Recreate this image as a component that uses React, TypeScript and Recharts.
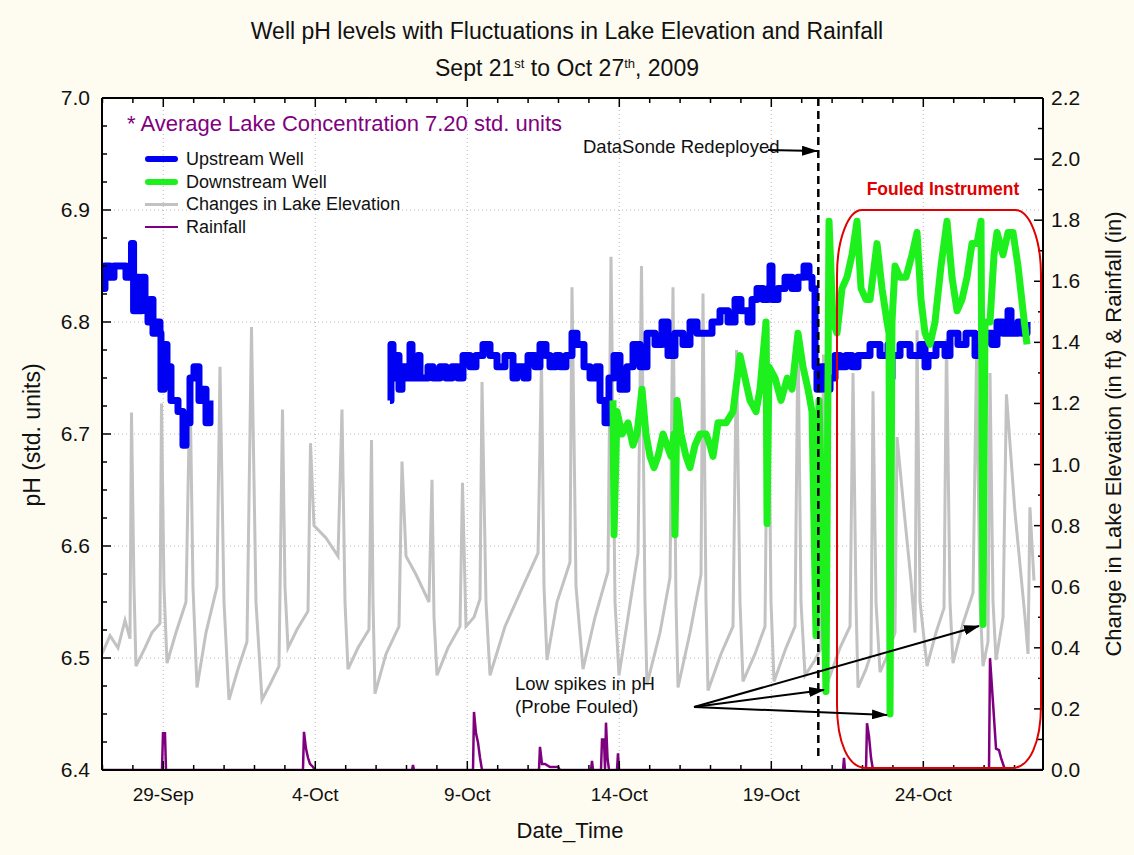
import React from 'react';
import { ComposedChart, Line, XAxis, YAxis, CartesianGrid, ReferenceLine, Legend } from 'recharts';

// ---------- axis / tick definitions ----------
const X_DOMAIN: [number, number] = [-2.016, 28.937]; // days since 29-Sep-2009
const X_TICKS = [-2, -1, 0, 1, 2, 3, 4, 5, 6, 7, 8, 9, 10, 11, 12, 13, 14, 15, 16, 17, 18, 19, 20, 21, 22, 23, 24, 25, 26, 27, 28];
const X_TICK_LABELS: Record<number, string> = { 0: '29-Sep', 5: '4-Oct', 10: '9-Oct', 15: '14-Oct', 20: '19-Oct', 25: '24-Oct' };
const X_GRID = [0, 5, 10, 15, 20, 25];
const PH_TICKS = [6.4, 6.425, 6.45, 6.475, 6.5, 6.525, 6.55, 6.575, 6.6, 6.625, 6.65, 6.675, 6.7, 6.725, 6.75, 6.775, 6.8, 6.825, 6.85, 6.875, 6.9, 6.925, 6.95, 6.975, 7.0];
const PH_GRID = [6.5, 6.6, 6.7, 6.8, 6.9];
const LAKE_TICKS = [0, 0.1, 0.2, 0.3, 0.4, 0.5, 0.6, 0.7, 0.8, 0.9, 1.0, 1.1, 1.2, 1.3, 1.4, 1.5, 1.6, 1.7, 1.8, 1.9, 2.0, 2.1, 2.2];
const REDEPLOY_DAY = 21.546;

// ---------- series ----------
const upstreamWell: [number, number | null][] = [
  [-2.016, 6.83], [-1.918, 6.85], [-1.753, 6.84], [-1.622, 6.85], [-1.293, 6.85], [-1.227, 6.84], [-1.095, 6.85], [-1.046, 6.87],
  [-0.977, 6.81], [-0.878, 6.84], [-0.78, 6.81], [-0.701, 6.84], [-0.602, 6.82], [-0.503, 6.8], [-0.438, 6.82], [-0.339, 6.79],
  [-0.207, 6.8], [-0.109, 6.79], [-0.076, 6.74], [0.023, 6.78], [0.122, 6.76], [0.253, 6.73], [0.418, 6.73], [0.484, 6.72],
  [0.648, 6.69], [0.747, 6.71], [0.878, 6.75], [1.01, 6.76], [1.174, 6.73], [1.306, 6.74], [1.405, 6.71], [1.536, 6.73],
  [2.0, null],
  [7.457, 6.73], [7.49, 6.78], [7.556, 6.75], [7.655, 6.77], [7.753, 6.74], [7.852, 6.76], [7.984, 6.75], [8.115, 6.78],
  [8.181, 6.75], [8.378, 6.77], [8.444, 6.75], [8.707, 6.76], [8.872, 6.75], [9.102, 6.76], [9.299, 6.75], [9.497, 6.76],
  [9.694, 6.75], [9.859, 6.77], [10.089, 6.76], [10.286, 6.77], [10.516, 6.78], [10.747, 6.77], [10.977, 6.76], [11.24, 6.77],
  [11.503, 6.75], [11.635, 6.76], [11.865, 6.75], [11.997, 6.77], [12.227, 6.76], [12.391, 6.78], [12.589, 6.77], [12.72, 6.76],
  [12.918, 6.77], [13.049, 6.76], [13.247, 6.77], [13.444, 6.79], [13.609, 6.78], [13.839, 6.76], [14.036, 6.75], [14.234, 6.76],
  [14.365, 6.73], [14.53, 6.71], [14.661, 6.75], [14.826, 6.77], [15.023, 6.74], [15.253, 6.76], [15.451, 6.78], [15.681, 6.76],
  [15.911, 6.79], [16.174, 6.78], [16.405, 6.8], [16.602, 6.77], [16.832, 6.79], [17.095, 6.78], [17.326, 6.8], [17.556, 6.79],
  [17.819, 6.79], [18.049, 6.8], [18.313, 6.81], [18.576, 6.8], [18.806, 6.82], [19.003, 6.81], [19.234, 6.8], [19.365, 6.82],
  [19.53, 6.83], [19.727, 6.82], [19.891, 6.83], [19.957, 6.85], [20.023, 6.82], [20.22, 6.83], [20.451, 6.84], [20.681, 6.83],
  [20.878, 6.84], [21.076, 6.85], [21.24, 6.84], [21.339, 6.83], [21.438, 6.76], [21.503, 6.74], [21.635, 6.76], [21.799, 6.74],
  [21.931, 6.75], [22.095, 6.77], [22.26, 6.76], [22.457, 6.77], [22.655, 6.76], [22.852, 6.77], [23.049, 6.77], [23.247, 6.78],
  [23.576, 6.77], [23.839, 6.78], [23.905, 6.75], [23.97, 6.77], [24.234, 6.78], [24.563, 6.77], [24.892, 6.78], [25.056, 6.76],
  [25.155, 6.77], [25.418, 6.78], [25.714, 6.77], [25.878, 6.79], [26.141, 6.78], [26.405, 6.79], [26.701, 6.77], [26.799, 6.78],
  [27.03, 6.79], [27.26, 6.78], [27.424, 6.8], [27.622, 6.79], [27.786, 6.81], [27.885, 6.79], [28.115, 6.8], [28.247, 6.79],
  [28.411, 6.8],
];

const downstreamWell: [number, number][] = [
  [14.793, 6.73], [14.826, 6.61], [14.925, 6.72], [15.089, 6.7], [15.286, 6.71], [15.451, 6.69], [15.582, 6.7], [15.747, 6.74],
  [15.878, 6.7], [16.01, 6.68], [16.141, 6.67], [16.273, 6.68], [16.437, 6.7], [16.569, 6.69], [16.701, 6.68], [16.799, 6.7],
  [16.832, 6.61], [16.898, 6.73], [17.03, 6.7], [17.194, 6.68], [17.326, 6.67], [17.49, 6.69], [17.655, 6.7], [17.852, 6.7],
  [17.984, 6.69], [18.082, 6.68], [18.247, 6.71], [18.51, 6.71], [18.74, 6.72], [18.971, 6.77], [19.135, 6.75], [19.299, 6.73],
  [19.497, 6.72], [19.628, 6.74], [19.826, 6.8], [19.859, 6.62], [19.924, 6.76], [20.122, 6.75], [20.32, 6.73], [20.526, 6.75],
  [20.681, 6.74], [20.878, 6.79], [21.043, 6.76], [21.207, 6.74], [21.339, 6.72], [21.47, 6.52], [21.569, 6.73], [21.668, 6.63],
  [21.799, 6.47], [21.898, 6.89], [22.03, 6.8], [22.161, 6.79], [22.326, 6.83], [22.49, 6.84], [22.655, 6.86], [22.819, 6.89],
  [22.951, 6.83], [23.115, 6.82], [23.247, 6.82], [23.477, 6.87], [23.641, 6.83], [23.806, 6.8], [23.872, 6.79], [23.905, 6.45],
  [23.97, 6.8], [24.069, 6.85], [24.234, 6.84], [24.431, 6.84], [24.628, 6.86], [24.793, 6.88], [24.924, 6.82], [25.056, 6.79],
  [25.22, 6.78], [25.385, 6.8], [25.582, 6.85], [25.78, 6.89], [25.944, 6.84], [26.109, 6.81], [26.273, 6.82], [26.437, 6.84],
  [26.602, 6.87], [26.766, 6.87], [26.898, 6.89], [26.964, 6.53], [27.03, 6.8], [27.194, 6.8], [27.326, 6.86], [27.424, 6.88],
  [27.622, 6.86], [27.786, 6.88], [27.951, 6.88], [28.115, 6.85], [28.28, 6.81], [28.411, 6.78],
];

const lakeElevation: [number, number][] = [
  [-2.016, 0.38], [-1.753, 0.44], [-1.49, 0.4], [-1.26, 0.49], [-1.095, 0.43], [-1.046, 1.17], [-0.964, 0.6], [-0.898, 0.34],
  [-0.602, 0.4], [-0.372, 0.45], [-0.109, 0.48], [-0.059, 1.2], [0.023, 0.6], [0.122, 0.35], [0.418, 0.45], [0.747, 0.55],
  [0.878, 1.27], [0.977, 0.6], [1.109, 0.27], [1.405, 0.45], [1.766, 0.6], [1.865, 1.32], [1.997, 0.55], [2.161, 0.23],
  [2.457, 0.33], [2.753, 0.42], [2.901, 1.45], [3.049, 0.55], [3.247, 0.23], [3.51, 0.28], [3.806, 0.34], [3.921, 1.18],
  [4.003, 0.6], [4.102, 0.4], [4.398, 0.46], [4.76, 0.52], [4.842, 1.07], [4.957, 0.8], [5.352, 0.76], [5.747, 0.7],
  [5.878, 1.18], [5.977, 0.55], [6.076, 0.33], [6.405, 0.4], [6.766, 0.46], [6.849, 1.08], [6.898, 0.55], [6.964, 0.25],
  [7.326, 0.38], [7.753, 0.47], [7.852, 1.01], [7.984, 0.7], [8.313, 0.64], [8.74, 0.55], [8.839, 0.95], [8.905, 0.5],
  [9.003, 0.31], [9.365, 0.4], [9.76, 0.47], [9.842, 0.94], [9.957, 0.47], [10.22, 0.5], [10.418, 0.56], [10.484, 1.27],
  [10.615, 0.55], [10.747, 0.31], [11.24, 0.47], [11.734, 0.58], [12.326, 0.71], [12.441, 1.34], [12.523, 0.6], [12.622, 0.36],
  [12.951, 0.55], [13.378, 0.68], [13.444, 1.58], [13.576, 0.6], [13.806, 0.33], [14.201, 0.5], [14.628, 0.65], [14.727, 1.68],
  [14.859, 0.55], [14.99, 0.31], [15.286, 0.5], [15.615, 0.71], [15.73, 1.65], [15.845, 0.55], [15.911, 0.28], [16.339, 0.45],
  [16.668, 0.63], [16.766, 1.58], [16.865, 0.55], [16.931, 0.27], [17.326, 0.45], [17.688, 0.64], [17.753, 1.56], [17.852, 0.55],
  [17.918, 0.26], [18.345, 0.38], [18.74, 0.47], [18.855, 1.375], [18.97, 0.55], [19.069, 0.29], [19.464, 0.38], [19.793, 0.47],
  [19.891, 1.45], [19.99, 0.55], [20.089, 0.29], [20.484, 0.4], [20.78, 0.47], [20.878, 1.44], [20.977, 0.55], [21.109, 0.31],
  [21.438, 0.36], [21.635, 0.4], [21.717, 1.36], [21.799, 0.55], [21.865, 0.29], [22.26, 0.4], [22.589, 0.47], [22.688, 1.3],
  [22.786, 0.55], [22.852, 0.27], [23.115, 0.33], [23.28, 0.38], [23.345, 1.24], [23.444, 0.55], [23.576, 0.32], [23.839, 0.38],
  [24.069, 0.45], [24.135, 1.09], [24.365, 0.85], [24.595, 0.62], [24.727, 0.45], [24.793, 1.44], [24.892, 0.55], [25.122, 0.34],
  [25.418, 0.45], [25.681, 0.53], [25.763, 1.41], [25.878, 0.55], [25.977, 0.35], [26.306, 0.48], [26.635, 0.58], [26.75, 1.35],
  [26.865, 0.55], [26.964, 0.34], [27.128, 0.42], [27.194, 1.3], [27.293, 0.55], [27.392, 0.36], [27.622, 0.5], [27.734, 1.23],
  [28.01, 0.85], [28.345, 0.5], [28.444, 0.38], [28.507, 0.86], [28.641, 0.62],
];

const rainfall: [number, number][] = [
  [-2.016, 0], [-0.043, 0], [-0.01, 0.12], [0.056, 0.12], [0.089, 0],
  [4.595, 0], [4.628, 0.125], [4.694, 0.07], [4.76, 0.04], [4.825, 0.02], [4.924, 0.01], [4.99, 0],
  [8.181, 0], [8.214, 0.016], [8.247, 0],
  [10.188, 0], [10.22, 0.19], [10.286, 0.12], [10.352, 0.09], [10.418, 0.04], [10.484, 0],
  [12.358, 0], [12.391, 0.076], [12.457, 0.02], [12.556, 0.02], [12.72, 0.01], [12.984, 0.01], [13.049, 0],
  [14.069, 0], [14.102, 0.03], [14.135, 0],
  [14.398, 0], [14.431, 0.1], [14.497, 0.1], [14.53, 0], [14.562, 0.155], [14.612, 0.04], [14.661, 0],
  [14.924, 0], [14.957, 0.055], [14.99, 0],
  [22.359, 0], [22.391, 0.04], [22.424, 0],
  [23.115, 0], [23.148, 0.153], [23.214, 0.11], [23.28, 0.04], [23.345, 0],
  [27.161, 0], [27.194, 0.366], [27.293, 0.22], [27.392, 0.07], [27.49, 0.065], [27.556, 0.04], [27.622, 0.02], [27.687, 0],
  [28.937, 0],
];

// ---------- styles ----------
const FONT = "'Liberation Sans', Arial, Helvetica, sans-serif";
const BG = '#FEFBF0';
const BLUE = '#0000F2';
const GREEN = '#1EF01E';
const GRAY = '#C2C2C2';
const PURPLE = '#7F007F';
const RED = '#E00000';

const PLOT_TOP = 98;
const PLOT_BOTTOM = 770;
const PLOT_H = PLOT_BOTTOM - PLOT_TOP;

const toRows = (arr: [number, number | null][]) => arr.map(([t, v]) => ({ t, v }));

const LEGEND_ITEMS = [
  { name: 'Upstream Well', color: BLUE, h: 6 },
  { name: 'Downstream Well', color: GREEN, h: 6 },
  { name: 'Changes in Lake Elevation', color: GRAY, h: 3 },
  { name: 'Rainfall', color: PURPLE, h: 2 },
];

function BottomTick(props: any) {
  const { x, y, payload } = props;
  const v = payload.value as number;
  const label = X_TICK_LABELS[v];
  const len = label ? 9 : 5;
  return (
    <g>
      <line x1={x} y1={y} x2={x} y2={y - len} stroke="#000" strokeWidth={1.5} />
      <line x1={x} y1={y - PLOT_H} x2={x} y2={y - PLOT_H + len} stroke="#000" strokeWidth={1.5} />
      {label ? (
        <text x={x} y={y + 31} textAnchor="middle" fontSize={19} fill="#111" fontFamily={FONT}>
          {label}
        </text>
      ) : null}
    </g>
  );
}

function LeftTick(props: any) {
  const { x, y, payload } = props;
  const v = payload.value as number;
  const major = Math.abs(v * 10 - Math.round(v * 10)) < 1e-6;
  return (
    <g>
      <line x1={x} y1={y} x2={x + (major ? 9 : 5)} y2={y} stroke="#000" strokeWidth={1.5} />
      {major ? (
        <text x={x - 12} y={y + 7} textAnchor="end" fontSize={21} fill="#111" fontFamily={FONT}>
          {v.toFixed(1)}
        </text>
      ) : null}
    </g>
  );
}

function RightTick(props: any) {
  const { x, y, payload } = props;
  const v = payload.value as number;
  const major = Math.abs(v * 5 - Math.round(v * 5)) < 1e-6;
  return (
    <g>
      <line x1={x} y1={y} x2={x - (major ? 9 : 5)} y2={y} stroke="#000" strokeWidth={1.5} />
      {major ? (
        <text x={x + 8} y={y + 7} textAnchor="start" fontSize={21} fill="#111" fontFamily={FONT}>
          {v.toFixed(1)}
        </text>
      ) : null}
    </g>
  );
}

const renderLegend = () => (
  <div style={{ fontFamily: FONT, fontSize: 18, color: '#111', lineHeight: 1 }}>
    {LEGEND_ITEMS.map((it) => (
      <div key={it.name} style={{ display: 'flex', alignItems: 'center', height: 22.5 }}>
        <span
          style={{
            display: 'inline-block',
            width: 33,
            height: it.h,
            background: it.color,
            borderRadius: it.h > 3 ? 3 : 0,
            marginRight: 8,
          }}
        />
        <span>{it.name}</span>
      </div>
    ))}
  </div>
);

export default function App() {
  const upRows = toRows(upstreamWell);
  const downRows = toRows(downstreamWell);
  const lakeRows = toRows(lakeElevation);
  const rainRows = toRows(rainfall);

  return (
    <div style={{ position: 'absolute', left: 0, top: 0, width: 1134, height: 855, background: BG, fontFamily: FONT }}>
      <ComposedChart width={1134} height={855} margin={{ top: PLOT_TOP, right: 0, bottom: 0, left: 0 }}>
        <CartesianGrid
          yAxisId="ph"
          horizontalValues={PH_GRID}
          verticalValues={X_GRID}
          stroke="#B8B8B8"
          strokeDasharray="1 3"
          fill="#FFFFFF"
          fillOpacity={1}
        />
        <XAxis
          dataKey="t"
          type="number"
          domain={X_DOMAIN}
          allowDataOverflow
          ticks={X_TICKS}
          interval={0}
          height={85}
          tickSize={0}
          tickMargin={0}
          tickLine={false}
          axisLine={{ stroke: '#000', strokeWidth: 2 }}
          tick={<BottomTick />}
        />
        <YAxis
          yAxisId="ph"
          type="number"
          domain={[6.4, 7.0]}
          allowDataOverflow
          ticks={PH_TICKS}
          interval={0}
          width={102}
          tickSize={0}
          tickMargin={0}
          tickLine={false}
          axisLine={{ stroke: '#000', strokeWidth: 2 }}
          tick={<LeftTick />}
        />
        <YAxis
          yAxisId="lake"
          orientation="right"
          type="number"
          domain={[0, 2.2]}
          allowDataOverflow
          ticks={LAKE_TICKS}
          interval={0}
          width={91}
          tickSize={0}
          tickMargin={0}
          tickLine={false}
          axisLine={{ stroke: '#000', strokeWidth: 2 }}
          tick={<RightTick />}
        />
        <ReferenceLine yAxisId="ph" y={7.0} stroke="#000" strokeWidth={2} />
        <Line
          data={lakeRows}
          dataKey="v"
          yAxisId="lake"
          type="linear"
          stroke={GRAY}
          strokeWidth={3}
          dot={false}
          activeDot={false}
          isAnimationActive={false}
          name="Changes in Lake Elevation"
        />
        <Line
          data={rainRows}
          dataKey="v"
          yAxisId="lake"
          type="linear"
          stroke={PURPLE}
          strokeWidth={2.5}
          dot={false}
          activeDot={false}
          isAnimationActive={false}
          name="Rainfall"
        />
        <Line
          data={upRows}
          dataKey="v"
          yAxisId="ph"
          type="stepAfter"
          stroke={BLUE}
          strokeWidth={7}
          strokeLinejoin="round"
          dot={false}
          activeDot={false}
          isAnimationActive={false}
          name="Upstream Well"
        />
        <Line
          data={downRows}
          dataKey="v"
          yAxisId="ph"
          type="linear"
          stroke={GREEN}
          strokeWidth={7}
          strokeLinejoin="round"
          dot={false}
          activeDot={false}
          isAnimationActive={false}
          name="Downstream Well"
        />
        <ReferenceLine
          yAxisId="ph"
          segment={[{ x: REDEPLOY_DAY, y: 7.0 }, { x: REDEPLOY_DAY, y: 6.409 }]}
          stroke="#000"
          strokeWidth={2.5}
          strokeDasharray="8 5"
        />
        <Legend
          layout="vertical"
          align="center"
          verticalAlign="middle"
          content={renderLegend}
          wrapperStyle={{ left: 145, top: 148, width: 'auto' }}
        />
      </ComposedChart>

      <svg
        width={1134}
        height={855}
        style={{ position: 'absolute', left: 0, top: 0, pointerEvents: 'none' }}
        fontFamily={FONT}
      >
        <defs>
          <marker id="arrowHead" markerWidth="16" markerHeight="10" refX="15" refY="5" orient="auto" markerUnits="userSpaceOnUse">
            <path d="M0,0 L16,5 L0,10 Z" fill="#000" />
          </marker>
        </defs>
        <text x={567} y={39} textAnchor="middle" fontSize={23} fill="#111">
          Well pH levels with Fluctuations in Lake Elevation and Rainfall
        </text>
        <text x={567} y={76} textAnchor="middle" fontSize={23} fill="#111">
          <tspan>Sept 21</tspan>
          <tspan dy={-8} fontSize={13}>st</tspan>
          <tspan dy={8}> to Oct 27</tspan>
          <tspan dy={-8} fontSize={13}>th</tspan>
          <tspan dy={8}>, 2009</tspan>
        </text>
        <text transform="translate(40,435) rotate(-90)" textAnchor="middle" fontSize={23} fill="#111">
          pH (std. units)
        </text>
        <text transform="translate(1121,434) rotate(-90)" textAnchor="middle" fontSize={22} fill="#111">
          Change in Lake Elevation (in ft) &amp; Rainfall (in)
        </text>
        <text x={570} y={838} textAnchor="middle" fontSize={22} fill="#111">
          Date_Time
        </text>
        <text x={127} y={131} fontSize={22} fill="#800080">
          * Average Lake Concentration 7.20 std. units
        </text>

        <text x={583} y={153} fontSize={18.5} fill="#111">DataSonde Redeployed</text>
        <line x1={768} y1={150} x2={817} y2={151} stroke="#000" strokeWidth={2} markerEnd="url(#arrowHead)" />

        <text x={943} y={195} textAnchor="middle" fontSize={17.5} fontWeight="bold" fill={RED}>
          Fouled Instrument
        </text>
        <path
          d="M 862 210 H 1015 C 1030 210 1041 240 1041 275 V 705 C 1041 742 1030 768 1012 768 H 866 C 848 768 837 742 837 705 V 275 C 837 240 848 210 862 210 Z"
          fill="none"
          stroke={RED}
          strokeWidth={2}
        />

        <text x={515} y={690} fontSize={18.5} fill="#111">Low spikes in pH</text>
        <text x={515} y={713} fontSize={18.5} fill="#111">(Probe Fouled)</text>
        <line x1={694} y1={707} x2={824} y2={690} stroke="#000" strokeWidth={2} markerEnd="url(#arrowHead)" />
        <line x1={694} y1={707} x2={887} y2={715} stroke="#000" strokeWidth={2} markerEnd="url(#arrowHead)" />
        <line x1={694} y1={707} x2={979} y2={626} stroke="#000" strokeWidth={2} markerEnd="url(#arrowHead)" />
      </svg>
    </div>
  );
}
